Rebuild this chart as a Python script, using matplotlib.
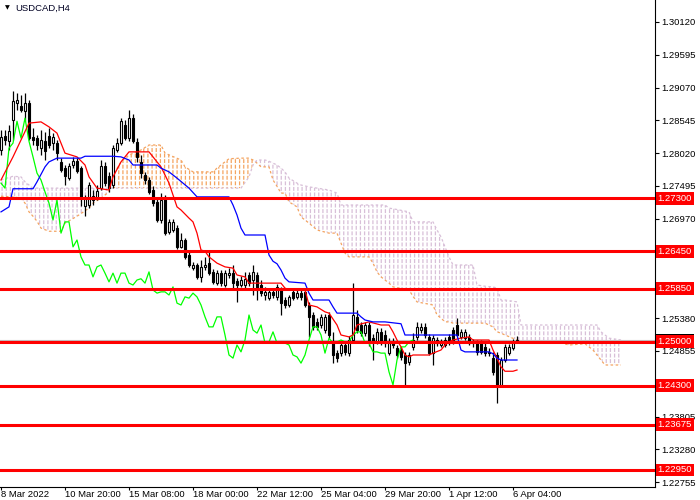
import numpy as np
import matplotlib
matplotlib.use('Agg')
import matplotlib.pyplot as plt
import matplotlib.transforms as mtransforms

plt.rcParams['font.family'] = ['Liberation Sans', 'DejaVu Sans']

# H4 candles, one per bar
opens = [1.2807, 1.2829, 1.2821, 1.2855, 1.2882, 1.2877, 1.2869, 1.2882, 1.2828, 1.2826,
         1.2810, 1.2821, 1.2829, 1.2818, 1.2818, 1.2788, 1.2778, 1.2762, 1.2783, 1.2789,
         1.2778, 1.2717, 1.2719, 1.2727, 1.2730, 1.2746, 1.2781, 1.2765, 1.2751, 1.2807,
         1.2818, 1.2847, 1.2826, 1.2858, 1.2820, 1.2788, 1.2767, 1.2759, 1.2743, 1.2724,
         1.2695, 1.2732, 1.2676, 1.2679, 1.2682, 1.2652, 1.2663, 1.2639, 1.2618, 1.2623,
         1.2604, 1.2620, 1.2626, 1.2612, 1.2594, 1.2610, 1.2591, 1.2607, 1.2610, 1.2597,
         1.2591, 1.2591, 1.2607, 1.2599, 1.2607, 1.2591, 1.2575, 1.2570, 1.2580, 1.2572,
         1.2583, 1.2567, 1.2559, 1.2580, 1.2572, 1.2578, 1.2580, 1.2559, 1.2543, 1.2532,
         1.2527, 1.2519, 1.2543, 1.2500, 1.2482, 1.2482, 1.2495, 1.2482, 1.2503, 1.2540,
         1.2527, 1.2514, 1.2527, 1.2506, 1.2500, 1.2516, 1.2511, 1.2482, 1.2500, 1.2490,
         1.2487, 1.2479, 1.2468, 1.2492, 1.2508, 1.2519, 1.2524, 1.2508, 1.2482, 1.2503,
         1.2495, 1.2495, 1.2508, 1.2519, 1.2527, 1.2508, 1.2506, 1.2508, 1.2500, 1.2498,
         1.2498, 1.2492, 1.2484, 1.2474, 1.2479, 1.2431, 1.2471, 1.2482, 1.2490, 1.2500]
highs = [1.2839, 1.2839, 1.2847, 1.2901, 1.2898, 1.2895, 1.2898, 1.2887, 1.2842, 1.2831,
         1.2839, 1.2836, 1.2842, 1.2834, 1.2823, 1.2794, 1.2783, 1.2786, 1.2796, 1.2794,
         1.2781, 1.2735, 1.2756, 1.2743, 1.2751, 1.2791, 1.2788, 1.2772, 1.2815, 1.2826,
         1.2858, 1.2855, 1.2871, 1.2865, 1.2826, 1.2799, 1.2772, 1.2764, 1.2749, 1.2729,
         1.2738, 1.2735, 1.2697, 1.2697, 1.2687, 1.2674, 1.2666, 1.2645, 1.2628, 1.2626,
         1.2631, 1.2636, 1.2645, 1.2617, 1.2615, 1.2615, 1.2615, 1.2618, 1.2623, 1.2602,
         1.2605, 1.2612, 1.2612, 1.2623, 1.2612, 1.2599, 1.2588, 1.2585, 1.2585, 1.2593,
         1.2588, 1.2572, 1.2575, 1.2583, 1.2583, 1.2583, 1.2585, 1.2564, 1.2548, 1.2538,
         1.2545, 1.2545, 1.2548, 1.2516, 1.2487, 1.2503, 1.2500, 1.2509, 1.2594, 1.2551,
         1.2532, 1.2532, 1.2532, 1.2513, 1.2522, 1.2522, 1.2519, 1.2506, 1.2506, 1.2495,
         1.2492, 1.2484, 1.2484, 1.2514, 1.2532, 1.2530, 1.2530, 1.2513, 1.2511, 1.2508,
         1.2505, 1.2508, 1.2513, 1.2524, 1.2538, 1.2521, 1.2521, 1.2513, 1.2505, 1.2503,
         1.2503, 1.2498, 1.2490, 1.2484, 1.2484, 1.2476, 1.2497, 1.2497, 1.2505, 1.2509]
lows = [1.2799, 1.2815, 1.2807, 1.2823, 1.2871, 1.2868, 1.2853, 1.2823, 1.2815, 1.2807,
        1.2799, 1.2791, 1.2810, 1.2807, 1.2791, 1.2772, 1.2751, 1.2759, 1.2778, 1.2770,
        1.2717, 1.2701, 1.2714, 1.2719, 1.2727, 1.2743, 1.2749, 1.2740, 1.2746, 1.2804,
        1.2815, 1.2823, 1.2821, 1.2818, 1.2788, 1.2762, 1.2753, 1.2737, 1.2717, 1.2692,
        1.2690, 1.2671, 1.2673, 1.2676, 1.2649, 1.2650, 1.2633, 1.2620, 1.2615, 1.2601,
        1.2596, 1.2615, 1.2607, 1.2593, 1.2591, 1.2589, 1.2588, 1.2602, 1.2586, 1.2564,
        1.2588, 1.2586, 1.2589, 1.2575, 1.2567, 1.2573, 1.2567, 1.2567, 1.2570, 1.2567,
        1.2543, 1.2554, 1.2556, 1.2567, 1.2569, 1.2567, 1.2556, 1.2508, 1.2519, 1.2519,
        1.2522, 1.2514, 1.2506, 1.2466, 1.2468, 1.2477, 1.2479, 1.2477, 1.2500, 1.2514,
        1.2509, 1.2509, 1.2493, 1.2471, 1.2497, 1.2495, 1.2492, 1.2479, 1.2490, 1.2474,
        1.2471, 1.2431, 1.2463, 1.2487, 1.2503, 1.2514, 1.2506, 1.2479, 1.2463, 1.2493,
        1.2492, 1.2492, 1.2495, 1.2497, 1.2508, 1.2505, 1.2503, 1.2495, 1.2492, 1.2479,
        1.2481, 1.2477, 1.2477, 1.2447, 1.2402, 1.2428, 1.2468, 1.2479, 1.2487, 1.2498]
closes = [1.2828, 1.2823, 1.2837, 1.2885, 1.2887, 1.2871, 1.2882, 1.2826, 1.2823, 1.2815,
          1.2823, 1.2805, 1.2815, 1.2828, 1.2802, 1.2775, 1.2765, 1.2781, 1.2789, 1.2773,
          1.2730, 1.2730, 1.2751, 1.2733, 1.2741, 1.2781, 1.2754, 1.2746, 1.2810, 1.2818,
          1.2853, 1.2826, 1.2858, 1.2821, 1.2796, 1.2770, 1.2759, 1.2740, 1.2722, 1.2695,
          1.2727, 1.2674, 1.2692, 1.2692, 1.2652, 1.2663, 1.2636, 1.2623, 1.2623, 1.2604,
          1.2620, 1.2623, 1.2610, 1.2596, 1.2610, 1.2594, 1.2610, 1.2610, 1.2594, 1.2591,
          1.2599, 1.2601, 1.2594, 1.2612, 1.2583, 1.2578, 1.2580, 1.2580, 1.2575, 1.2588,
          1.2562, 1.2559, 1.2572, 1.2570, 1.2578, 1.2572, 1.2559, 1.2540, 1.2524, 1.2524,
          1.2540, 1.2540, 1.2511, 1.2479, 1.2474, 1.2495, 1.2484, 1.2503, 1.2543, 1.2519,
          1.2514, 1.2527, 1.2498, 1.2500, 1.2516, 1.2498, 1.2498, 1.2498, 1.2495, 1.2479,
          1.2476, 1.2466, 1.2479, 1.2503, 1.2524, 1.2524, 1.2511, 1.2482, 1.2506, 1.2498,
          1.2500, 1.2503, 1.2500, 1.2500, 1.2511, 1.2516, 1.2516, 1.2498, 1.2498, 1.2484,
          1.2484, 1.2482, 1.2482, 1.2452, 1.2431, 1.2471, 1.2492, 1.2492, 1.2500, 1.2503]

# ichimoku lines (bar index, price)
tenkan_x = [0, 3, 7, 10, 12, 14, 16, 19, 21, 22, 24, 27, 28, 30, 32, 37, 39, 40, 42, 44,
            45, 47, 48, 49, 50, 51, 52, 54, 56, 58, 59, 61, 62, 70, 71, 72, 76, 77, 79, 81,
            82, 84, 85, 87, 88, 89, 92, 95, 97, 98, 99, 100, 101, 102, 103, 107, 108, 110, 111, 112,
            113, 115, 117, 118, 122, 123, 124, 125, 126, 128, 129]
tenkan = [1.2759, 1.2796, 1.2850, 1.2852, 1.2844, 1.2834, 1.2802, 1.2796, 1.2783, 1.2764,
          1.2746, 1.2743, 1.2764, 1.2788, 1.2804, 1.2804, 1.2788, 1.2780, 1.2754, 1.2716,
          1.2711, 1.2698, 1.2692, 1.2674, 1.2647, 1.2645, 1.2636, 1.2626, 1.2620, 1.2618,
          1.2607, 1.2604, 1.2594, 1.2594, 1.2586, 1.2583, 1.2583, 1.2559, 1.2556, 1.2548,
          1.2546, 1.2527, 1.2511, 1.2508, 1.2511, 1.2527, 1.2532, 1.2527, 1.2527, 1.2516,
          1.2503, 1.2492, 1.2479, 1.2476, 1.2479, 1.2479, 1.2482, 1.2487, 1.2495, 1.2500,
          1.2503, 1.2506, 1.2508, 1.2503, 1.2503, 1.2487, 1.2474, 1.2460, 1.2453, 1.2453,
          1.2455]
kijun_x = [0, 2, 3, 8, 9, 11, 12, 14, 20, 21, 28, 30, 32, 33, 39, 40, 42, 44, 47, 49,
           57, 58, 59, 60, 61, 66, 67, 68, 69, 70, 71, 72, 76, 77, 78, 82, 83, 84, 89, 90,
           91, 93, 96, 100, 101, 114, 115, 116, 122, 123, 124, 125, 129]
kijun = [1.2708, 1.2716, 1.2745, 1.2745, 1.2756, 1.2780, 1.2788, 1.2794, 1.2794, 1.2797,
         1.2797, 1.2796, 1.2791, 1.2783, 1.2783, 1.2778, 1.2772, 1.2762, 1.2746, 1.2732,
         1.2732, 1.2719, 1.2703, 1.2682, 1.2671, 1.2671, 1.2639, 1.2629, 1.2625, 1.2615,
         1.2602, 1.2596, 1.2594, 1.2578, 1.2567, 1.2567, 1.2556, 1.2546, 1.2546, 1.2540,
         1.2535, 1.2532, 1.2532, 1.2529, 1.2511, 1.2511, 1.2487, 1.2484, 1.2484, 1.2481,
         1.2474, 1.2471, 1.2471]
cloud_x = [0, 3, 5, 6, 7, 8, 9, 10, 12, 15, 16, 19, 22, 23, 25, 27, 28, 30, 32, 35,
           37, 40, 41, 45, 46, 48, 53, 54, 56, 57, 60, 62, 63, 64, 65, 66, 67, 68, 69, 70,
           71, 72, 74, 75, 77, 79, 82, 84, 85, 86, 87, 92, 93, 94, 95, 96, 97, 98, 102, 103,
           104, 108, 109, 110, 111, 112, 113, 115, 118, 119, 121, 123, 124, 125, 126, 129, 130, 132, 137, 139,
           142, 146, 148, 149, 150, 151, 152, 155]
span_a = [1.2733, 1.2732, 1.2730, 1.2722, 1.2708, 1.2701, 1.2693, 1.2682, 1.2677, 1.2677,
          1.2690, 1.2701, 1.2714, 1.2722, 1.2730, 1.2740, 1.2767, 1.2788, 1.2799, 1.2807,
          1.2815, 1.2815, 1.2802, 1.2791, 1.2780, 1.2772, 1.2772, 1.2778, 1.2788, 1.2793,
          1.2794, 1.2794, 1.2791, 1.2786, 1.2780, 1.2780, 1.2780, 1.2759, 1.2749, 1.2738,
          1.2738, 1.2724, 1.2716, 1.2700, 1.2690, 1.2679, 1.2674, 1.2674, 1.2658, 1.2642,
          1.2636, 1.2636, 1.2626, 1.2612, 1.2604, 1.2599, 1.2594, 1.2588, 1.2583, 1.2573,
          1.2564, 1.2559, 1.2543, 1.2538, 1.2532, 1.2532, 1.2530, 1.2530, 1.2530, 1.2530,
          1.2530, 1.2524, 1.2516, 1.2514, 1.2511, 1.2503, 1.2501, 1.2498, 1.2498, 1.2500,
          1.2495, 1.2497, 1.2487, 1.2479, 1.2471, 1.2463, 1.2463, 1.2463]
span_b = [1.2759, 1.2765, 1.2764, 1.2756, 1.2751, 1.2746, 1.2746, 1.2746, 1.2746, 1.2746,
          1.2746, 1.2746, 1.2746, 1.2746, 1.2746, 1.2746, 1.2746, 1.2746, 1.2746, 1.2746,
          1.2746, 1.2746, 1.2746, 1.2746, 1.2746, 1.2746, 1.2746, 1.2746, 1.2746, 1.2746,
          1.2746, 1.2764, 1.2783, 1.2791, 1.2791, 1.2791, 1.2789, 1.2786, 1.2783, 1.2778,
          1.2772, 1.2762, 1.2754, 1.2751, 1.2748, 1.2746, 1.2743, 1.2738, 1.2719, 1.2719,
          1.2719, 1.2719, 1.2719, 1.2719, 1.2719, 1.2719, 1.2714, 1.2713, 1.2708, 1.2692,
          1.2692, 1.2692, 1.2679, 1.2668, 1.2652, 1.2636, 1.2623, 1.2623, 1.2623, 1.2591,
          1.2589, 1.2588, 1.2586, 1.2567, 1.2567, 1.2564, 1.2527, 1.2527, 1.2527, 1.2527,
          1.2527, 1.2527, 1.2527, 1.2527, 1.2516, 1.2511, 1.2506, 1.2503]

levels = [1.2730, 1.2645, 1.2585, 1.2500, 1.2430, 1.23675, 1.2295]
price_ticks = [1.30120, 1.29595, 1.29070, 1.28545, 1.28020, 1.27495, 1.26970,
               1.25380, 1.24855, 1.23805, 1.23280, 1.22755]
date_ticks = [0, 16, 32, 48, 64, 80, 96, 112, 128]
date_labels = ['8 Mar 2022', '10 Mar 20:00', '15 Mar 08:00', '18 Mar 00:00', '22 Mar 12:00',
               '25 Mar 04:00', '29 Mar 20:00', '1 Apr 12:00', '6 Apr 04:00']

o = np.array(opens)
h = np.array(highs)
l = np.array(lows)
c = np.array(closes)
x = np.arange(len(c))
a = np.array(span_a)
b = np.array(span_b)

fig = plt.figure(figsize=(7, 5), dpi=100)
ax = fig.add_axes([0, 13 / 500, 655 / 700, 487 / 500])
ax.set_xlim(-0.25, 163.5)
ax.set_ylim(1.22678, 1.3047)

# kumo, vertical hatch broken into dashes by a white horizontal hatch
with plt.rc_context({'hatch.linewidth': 0.9}):
    ax.fill_between(cloud_x, a, b, where=a >= b, interpolate=True, facecolor='none',
                    edgecolor='#f4a460', hatch='||||', linewidth=0, zorder=1)
    ax.fill_between(cloud_x, a, b, where=b >= a, interpolate=True, facecolor='none',
                    edgecolor='#d8bfd8', hatch='||||', linewidth=0, zorder=1)
with plt.rc_context({'hatch.linewidth': 1.2}):
    ax.fill_between(cloud_x, a, b, facecolor='none', edgecolor='white', hatch='---',
                    linewidth=0, zorder=1.5)
ax.plot(cloud_x, a, color='#f4a460', lw=0.9, ls=(0, (2, 2)), zorder=2)
ax.plot(cloud_x, b, color='#d8bfd8', lw=0.9, ls=(0, (2, 2)), zorder=2)

ax.axhline(c[-1], color='#c0c0c0', lw=0.8, zorder=2)

# candles
ax.vlines(x, l, h, color='black', lw=0.9, zorder=3)
up = c >= o
ax.bar(x[up], (c - o)[up], bottom=o[up], width=0.62, color='white',
       edgecolor='black', linewidth=0.8, zorder=4)
ax.bar(x[~up], (c - o)[~up], bottom=o[~up], width=0.62, color='black',
       edgecolor='black', linewidth=0.8, zorder=4)

ax.plot(x[26:] - 26, c[26:], color='#00ff00', lw=0.9, zorder=5)
ax.plot(tenkan_x, tenkan, color='#ff0000', lw=0.9, zorder=5)
ax.plot(kijun_x, kijun, color='#0000ff', lw=0.9, zorder=5)

trans = mtransforms.blended_transform_factory(ax.transAxes, ax.transData)
ax.text(1.004, c[-1], '%.5f' % c[-1], transform=trans, ha='left', va='center',
        color='white', fontsize=6.8, clip_on=False, zorder=9,
        bbox=dict(boxstyle='square,pad=0.2', fc='black', ec='none'))
for lv in levels:
    ax.axhline(lv, color='#ff0000', lw=2.2, zorder=6)
    ax.text(1.004, lv, '%.5f' % lv, transform=trans, ha='left', va='center',
            color='white', fontsize=6.8, clip_on=False, zorder=10,
            bbox=dict(boxstyle='square,pad=0.2', fc='#ff0000', ec='none'))

for side in ['top', 'left']:
    ax.spines[side].set_visible(False)
for side in ['right', 'bottom']:
    ax.spines[side].set_linewidth(0.8)

ax.yaxis.tick_right()
ax.set_yticks(price_ticks)
ax.set_yticklabels(['%.5f' % v for v in price_ticks])
ax.set_xticks(date_ticks)
ax.set_xticklabels(date_labels)
for lbl in ax.get_xticklabels():
    lbl.set_ha('left')
ax.tick_params(axis='y', length=3, width=0.8, labelsize=6.8, pad=1.5)
ax.tick_params(axis='x', length=2, width=0.8, labelsize=6.8, pad=0.3)

fig.text(5 / 700, 1 - 8 / 500, '\u25bc', fontsize=4.5, family='DejaVu Sans', va='center')
fig.text(15 / 700, 1 - 8 / 500, 'USDCAD,H4', fontsize=6.8, va='center', color='#000022')

fig.savefig('out.png', dpi=100)
